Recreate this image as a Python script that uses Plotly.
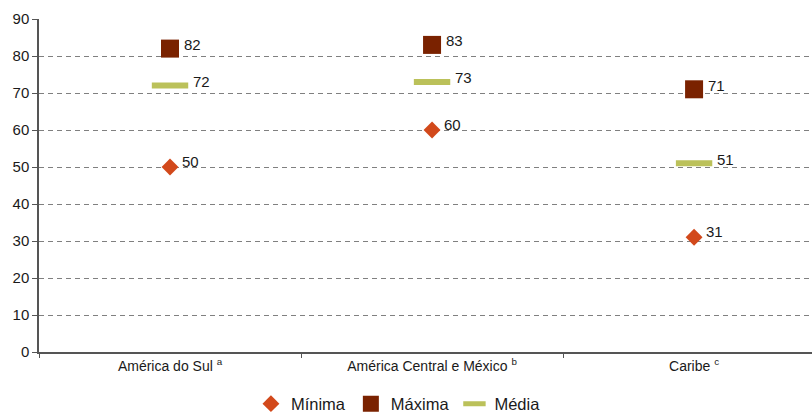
import plotly.graph_objects as go

regioes = ["América do Sul <sup>a</sup>", "América Central e México <sup>b</sup>", "Caribe <sup>c</sup>"]
minima = [50, 60, 31]
maxima = [82, 83, 71]
media = [72, 73, 51]
y_ticks = [0, 10, 20, 30, 40, 50, 60, 70, 80, 90]

FONT = "Liberation Sans, Arial, sans-serif"
TXT = "#1a1a1a"

series = [
    # name, values, marker, label x/y shift
    ("Mínima", minima, dict(symbol="diamond", size=13, color="#D2491B"), 10, 6),
    ("Máxima", maxima, dict(symbol="square", size=18, color="#7A2200"), 12, 4),
    ("Média", media, dict(symbol="line-ew", size=26, line=dict(width=6, color="#BBC15A")), 21, 4),
]

fig = go.Figure()
annotations = []
for name, vals, marker, dx, dy in series:
    fig.add_trace(go.Scatter(x=regioes, y=vals, name=name, mode="markers", marker=marker))
    for cat, v in zip(regioes, vals):
        annotations.append(dict(
            x=cat, y=v, xref="x", yref="y", text=str(v), showarrow=False,
            xanchor="left", yanchor="middle", xshift=dx, yshift=dy,
            font=dict(family=FONT, size=15, color=TXT),
        ))

fig.update_layout(
    width=812, height=413,
    margin=dict(l=39, r=0, t=19, b=61),
    paper_bgcolor="white", plot_bgcolor="white",
    font=dict(family=FONT, size=14, color=TXT),
    annotations=annotations,
    showlegend=True,
    legend=dict(orientation="h", x=0.465, xanchor="center",
                yref="container", y=0.022, yanchor="middle",
                font=dict(family=FONT, size=16.5, color=TXT),
                itemwidth=30, tracegroupgap=0),
)
fig.update_xaxes(
    type="category", range=[-0.5, 2.45],
    showgrid=False, showline=True, linecolor="#555", linewidth=1.5,
    ticks="outside", tickson="boundaries", ticklen=4, tickcolor="#555",
    tickfont=dict(family=FONT, size=14, color=TXT),
)
fig.update_yaxes(
    range=[0, 90], tickvals=y_ticks, ticktext=[str(v) for v in y_ticks],
    showgrid=True, gridcolor="#808080", griddash="5px,4px", gridwidth=1.3,
    zeroline=False, showline=True, linecolor="#555", linewidth=1.5,
    ticks="outside", ticklen=5, tickcolor="#555",
    tickfont=dict(family=FONT, size=15, color=TXT),
)

fig.write_html("out.html")
